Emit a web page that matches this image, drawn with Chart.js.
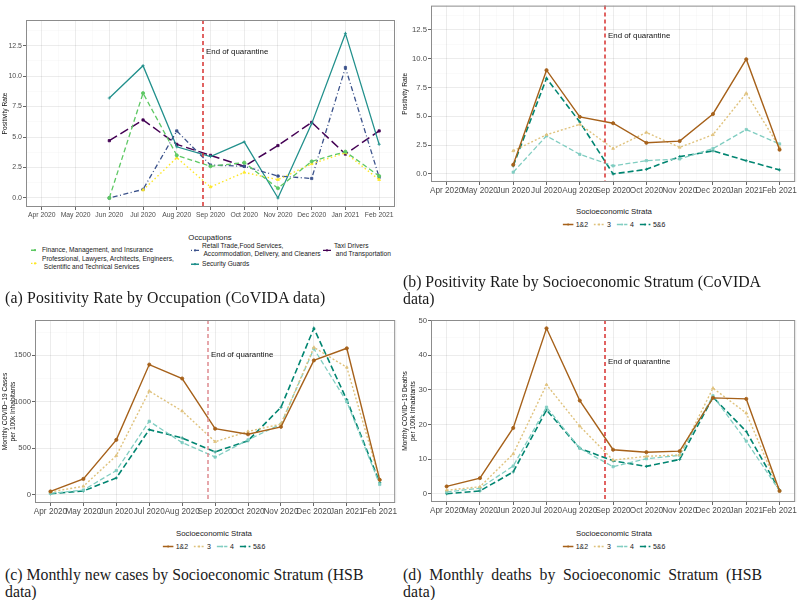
<!DOCTYPE html>
<html>
<head>
<meta charset="utf-8">
<script src="https://cdn.jsdelivr.net/npm/chart.js@4.4.0/dist/chart.umd.min.js"></script>
<style>
  body { margin: 0; width: 800px; height: 600px; background: #fff; position: relative; overflow: hidden;
         font-family: "Liberation Sans", Arial, sans-serif; color: #1a1a1a; }
  canvas { position: absolute; }
  .cap { position: absolute; font-family: "Liberation Serif", serif; font-size: 15.8px; line-height: 17px; white-space: nowrap; color: #1a1a1a; letter-spacing: 0.15px; }
  .just { white-space: normal; text-align: justify; text-align-last: justify; }
  .leg-title { position: absolute; transform: translate(-50%, -50%); font-size: 7.8px; }
  .leg-row { position: absolute; transform: translate(-50%, -50%); display: flex; align-items: center; font-size: 7px; }
  .leg-row span { margin: 0 6px 0 2px; }
  .occ-item { position: absolute; display: flex; align-items: center; font-size: 6.6px; line-height: 7.6px; transform: translateY(-50%); }
  .occ-item svg { margin-right: 3px; }
</style>
</head>
<body>
  <canvas id="chartA" width="400" height="222" style="left:0; top:0; width:400px; height:222px;"></canvas>
  <canvas id="chartB" width="400" height="200" style="left:400px; top:0; width:400px; height:200px;"></canvas>
  <canvas id="chartC" width="400" height="220" style="left:0; top:300px; width:400px; height:220px;"></canvas>
  <canvas id="chartD" width="400" height="220" style="left:400px; top:300px; width:400px; height:220px;"></canvas>

  <div id="legendA"></div>
  <div id="legendB"></div>
  <div id="legendC"></div>
  <div id="legendD"></div>

  <div class="cap" style="left:5px; top:289px;">(a) Positivity Rate by Occupation (CoVIDA data)</div>
  <div class="cap" style="left:403px; top:273px; letter-spacing:0;">(b) Positivity Rate by Socioeconomic Stratum (CoVIDA<br>data)</div>
  <div class="cap" style="left:5px; top:566px; letter-spacing:0;">(c) Monthly new cases by Socioeconomic Stratum (HSB<br>data)</div>
  <div class="cap just" style="left:403px; top:566px; width:359px; letter-spacing:0;">(d) Monthly deaths by Socioeconomic Stratum (HSB</div>
  <div class="cap" style="left:403px; top:583px;">data)</div>

  <script>
    // months on the x axis
    const MONTHS = ["Apr 2020", "May 2020", "Jun 2020", "Jul 2020", "Aug 2020", "Sep 2020",
                    "Oct 2020", "Nov 2020", "Dec 2020", "Jan 2021", "Feb 2021"];
    const QUARANTINE_END = 4.77;   // position of the dashed line, between Aug and Sep ticks
    const QUARANTINE_TEXT = "End of quarantine";

    // (a) positivity rate by occupation
    const OCCUPATIONS = ["Finance, Management, and Insurance",
                         "Professional, Lawyers, Architects, Engineers,\n Scientific and Technical Services",
                         "Retail Trade,Food Services,\n Accommodation, Delivery, and Cleaners",
                         "Security Guards",
                         "Taxi Drivers\n and Transportation"];
    const finance      = [null, null, 0.0, 8.6, 3.5, 2.6, 2.9, 0.8, 3.0, 3.8, 1.8];
    const professional = [null, null, null, 0.65, 3.3, 0.9, 2.1, 1.5, 2.8, 3.7, 1.5];
    const retail       = [null, null, 0.0, 0.7, 5.5, 2.7, 2.6, 1.8, 1.6, 10.7, 1.7];
    const security     = [null, null, 8.2, 10.85, 4.2, 3.4, 4.6, 0.0, 6.1, 13.5, 4.4];
    const taxi         = [null, null, 4.7, 6.4, 4.4, 3.5, 2.6, 4.3, 6.2, 3.6, 5.5];

    // strata
    const STRATA = ["1&2", "3", "4", "5&6"];

    // (b) positivity rate by stratum
    const posS12 = [null, null, 0.8, 9.0, 4.95, 4.4, 2.7, 2.85, 5.2, 9.95, 2.1];
    const posS3  = [null, null, 2.0, 3.4, 4.3, 2.2, 3.6, 2.3, 3.4, 7.0, 2.3];
    const posS4  = [null, null, 0.15, 3.3, 1.7, 0.7, 1.15, 1.3, 2.2, 3.85, 2.6];
    const posS56 = [null, null, 0.7, 8.3, 4.5, 0.0, 0.4, 1.5, 2.0, 1.15, 0.35];

    // (c) monthly cases per 100k
    const casesS12 = [35, 170, 590, 1400, 1250, 710, 650, 730, 1445, 1575, 160];
    const casesS3  = [30, 90, 420, 1115, 900, 570, 680, 760, 1585, 1370, 165];
    const casesS4  = [15, 50, 260, 790, 560, 405, 590, 760, 1570, 1000, 110];
    const casesS56 = [10, 40, 180, 700, 610, 460, 580, 940, 1790, 1020, 130];

    // (d) monthly deaths per 100k
    const deathsS12 = [2.1, 4.5, 19.0, 47.8, 26.9, 12.7, 12.0, 12.3, 27.7, 27.4, 0.8];
    const deathsS3  = [1.0, 2.0, 11.5, 31.5, 19.5, 9.7, 10.8, 11.2, 30.5, 23.3, 0.8];
    const deathsS4  = [0.5, 1.6, 8.0, 25.0, 13.1, 7.8, 10.1, 11.1, 28.3, 15.2, 0.8];
    const deathsS56 = [0.0, 0.8, 6.3, 24.2, 13.1, 9.5, 7.9, 9.9, 27.9, 18.0, 1.0];

    // y tick labels
    const POS_TICKS = [0, 2.5, 5, 7.5, 10, 12.5];
    const POS_LABELS = ["0.0", "2.5", "5.0", "7.5", "10.0", "12.5"];
    const CASE_TICKS = [0, 500, 1000, 1500];
    const CASE_LABELS = ["0", "500", "1000", "1500"];
    const DEATH_TICKS = [0, 10, 20, 30, 40, 50];
    const DEATH_LABELS = ["0", "10", "20", "30", "40", "50"];

    // styles
    const occColors = ["#5DC863", "#FDE725", "#3B528B", "#21908C", "#440154"];
    const occDash = [[5, 3], [1.5, 2.5], [1, 2.5, 5, 2.5], [], [9, 4]];
    const occPoint = ["circle", "triangle", "rect", "cross", "rect"];
    const strataColors = ["#A6611A", "#DFC27D", "#80CDC1", "#018571"];
    const strataDash = [[], [2, 2], [5, 2.5], [6, 3]];
    const strataWidth = [1.4, 1.4, 1.3, 1.6];
    const strataPoint = ["circle", "triangle", "rect", "cross"];

    const X_MIN = -0.47, X_MAX = 10.47;
    const FONT = "'Liberation Sans', Arial, sans-serif";

    function withMinors(majors) {
      const out = [];
      majors.forEach((v, i) => {
        out.push(v);
        if (i < majors.length - 1) out.push((v + majors[i + 1]) / 2);
      });
      out.push(majors[majors.length - 1] + (majors[1] - majors[0]) / 2);
      return out;
    }

    // panel border + quarantine line (one plugin per chart)
    function panelDeco(id, labelY, lineColor) {
      return {
        id: "deco_" + id,
        afterDraw(chart) {
          const { ctx, chartArea: a, scales } = chart;
          const x = Math.round(scales.x.getPixelForValue(QUARANTINE_END));
          ctx.save();
          ctx.setLineDash([4, 3]);
          ctx.lineWidth = 1.5;
          ctx.strokeStyle = lineColor;
          ctx.beginPath();
          ctx.moveTo(x, a.top);
          ctx.lineTo(x, a.bottom);
          ctx.stroke();
          ctx.setLineDash([]);
          ctx.fillStyle = "#111";
          ctx.font = "7.9px " + FONT;
          ctx.textBaseline = "middle";
          ctx.fillText(QUARANTINE_TEXT, x + 3, scales.y.getPixelForValue(labelY));
          ctx.strokeStyle = "#8c8c8c";
          ctx.lineWidth = 1;
          ctx.strokeRect(a.left + 0.5, a.top + 0.5, a.right - a.left - 1, a.bottom - a.top - 1);
          ctx.restore();
        }
      };
    }

    function makePanel(id, cfg) {
      const xTicks = withMinors(MONTHS.map((m, i) => i));
      const yTicks = withMinors(cfg.yMajors);
      const isMajorX = v => Number.isInteger(v);
      const majorIdx = v => cfg.yMajors.indexOf(v);

      const datasets = cfg.series.map((vals, i) => ({
        label: cfg.names[i],
        data: vals.map((v, j) => ({ x: j, y: v })),
        borderColor: cfg.colors[i],
        backgroundColor: cfg.colors[i],
        borderWidth: cfg.widths[i],
        borderDash: cfg.dashes[i],
        pointStyle: cfg.points[i],
        pointRadius: 1.6,
        pointBorderWidth: 0.8,
        tension: 0,
        spanGaps: false,
        fill: false
      }));

      return new Chart(document.getElementById(id), {
        type: "line",
        data: { datasets },
        plugins: [panelDeco(id, cfg.labelY, cfg.lineColor)],
        options: {
          responsive: false,
          animation: false,
          layout: { padding: cfg.pad },
          scales: {
            x: {
              type: "linear", min: X_MIN, max: X_MAX,
              afterBuildTicks: s => { s.ticks = xTicks.map(v => ({ value: v })); },
              afterFit: s => { s.height = cfg.xHeight; },
              border: { display: false },
              grid: {
                color: c => isMajorX(c.tick.value) ? "rgba(0,0,0,0.085)" : "rgba(0,0,0,0.045)",
                lineWidth: c => isMajorX(c.tick.value) ? 0.9 : 0.5,
                tickColor: c => isMajorX(c.tick.value) ? "#555" : "rgba(0,0,0,0)",
                tickLength: 3
              },
              ticks: {
                autoSkip: false, maxRotation: 0, minRotation: 0, padding: 1,
                color: "#4d4d4d", font: { size: cfg.xTickSize, family: FONT },
                callback: v => isMajorX(v) ? MONTHS[v] : ""
              }
            },
            y: {
              min: cfg.yMin, max: cfg.yMax,
              afterBuildTicks: s => { s.ticks = yTicks.filter(v => v <= cfg.yMax).map(v => ({ value: v })); },
              afterFit: s => { s.width = cfg.yWidth; },
              border: { display: false },
              title: {
                display: true, text: cfg.yTitle, color: "#111",
                font: { size: 6.6, family: FONT },
                padding: { top: 1, bottom: 0 }
              },
              grid: {
                color: c => majorIdx(c.tick.value) >= 0 ? "rgba(0,0,0,0.085)" : "rgba(0,0,0,0.045)",
                lineWidth: c => majorIdx(c.tick.value) >= 0 ? 0.9 : 0.5,
                tickColor: c => majorIdx(c.tick.value) >= 0 ? "#555" : "rgba(0,0,0,0)",
                tickLength: 3
              },
              ticks: {
                autoSkip: false, padding: 1, color: "#4d4d4d",
                font: { size: cfg.yTickSize, family: FONT },
                callback: v => majorIdx(v) >= 0 ? cfg.yLabels[majorIdx(v)] : ""
              }
            }
          },
          plugins: {
            legend: { display: false },
            tooltip: { enabled: false }
          }
        }
      });
    }

    const strataStyle = { names: STRATA, colors: strataColors, dashes: strataDash, widths: strataWidth, points: strataPoint };
    const RED = "#D8312F";

    makePanel("chartA", {
      series: [finance, professional, retail, security, taxi],
      names: OCCUPATIONS, colors: occColors, dashes: occDash, widths: [1.3, 1.4, 1.3, 1.3, 1.5], points: occPoint,
      yMin: -0.74, yMax: 14.6, yMajors: POS_TICKS, yLabels: POS_LABELS, yTitle: "Positivity Rate",
      labelY: 12, lineColor: RED,
      pad: { top: 20, right: 5, left: 0, bottom: 0 }, yWidth: 26, xHeight: 15, xTickSize: 6.8, yTickSize: 7
    });

    makePanel("chartB", Object.assign({
      series: [posS12, posS3, posS4, posS56],
      yMin: -0.7, yMax: 14.6, yMajors: POS_TICKS, yLabels: POS_LABELS, yTitle: "Positivity Rate",
      labelY: 12, lineColor: RED,
      pad: { top: 1, right: 1, left: 0, bottom: 0 }, yWidth: 31, xHeight: 18, xTickSize: 8.2, yTickSize: 7.7
    }, strataStyle));

    makePanel("chartC", Object.assign({
      series: [casesS12, casesS3, casesS4, casesS56],
      yMin: -89.5, yMax: 1879.5, yMajors: CASE_TICKS, yLabels: CASE_LABELS,
      yTitle: ["Monthly COVID\u221219 Cases", "per 100k Inhabitants"],
      labelY: 1500, lineColor: "#DE8A90",
      pad: { top: 20, right: 4, left: 0, bottom: 0 }, yWidth: 35, xHeight: 17, xTickSize: 8.2, yTickSize: 7.7
    }, strataStyle));

    makePanel("chartD", Object.assign({
      series: [deathsS12, deathsS3, deathsS4, deathsS56],
      yMin: -2.4, yMax: 50.2, yMajors: DEATH_TICKS, yLabels: DEATH_LABELS,
      yTitle: ["Monthly COVID\u221219 Deaths", "per 100k Inhabitants"],
      labelY: 38, lineColor: RED,
      pad: { top: 20, right: 3, left: 0, bottom: 0 }, yWidth: 31, xHeight: 18, xTickSize: 8.2, yTickSize: 7.7
    }, strataStyle));

    // legends
    function sample(color, dash, width, len) {
      const d = dash.length ? `stroke-dasharray="${dash.join(",")}"` : "";
      return `<svg width="${len}" height="6"><line x1="0" y1="3" x2="${len}" y2="3" stroke="${color}" stroke-width="${width}" ${d}/>` +
             `<circle cx="${len / 2}" cy="3" r="1.1" fill="${color}"/></svg>`;
    }

    function strataLegend(elId, cx, titleY, rowY) {
      const row = STRATA.map((s, i) => sample(strataColors[i], strataDash[i], strataWidth[i], 11) + `<span>${s.replace("&", "&amp;")}</span>`).join("");
      document.getElementById(elId).innerHTML =
        `<div class="leg-title" style="left:${cx}px; top:${titleY}px;">Socioeconomic Strata</div>` +
        `<div class="leg-row" style="left:${cx + 3}px; top:${rowY}px;">${row}</div>`;
    }
    strataLegend("legendB", 614, 211, 224);
    strataLegend("legendC", 214, 533, 546);
    strataLegend("legendD", 614, 533, 546);

    const occPos = [[31, 250], [31, 263], [191, 250], [191, 264], [323, 250]];
    let occHtml = `<div class="leg-title" style="left:210px; top:237px;">Occupations</div>`;
    OCCUPATIONS.forEach((name, i) => {
      occHtml += `<div class="occ-item" style="left:${occPos[i][0]}px; top:${occPos[i][1]}px;">` +
        sample(occColors[i], occDash[i], 1.4, 8) +
        `<div style="white-space:pre;">${name}</div></div>`;
    });
    document.getElementById("legendA").innerHTML = occHtml;
  </script>
</body>
</html>
